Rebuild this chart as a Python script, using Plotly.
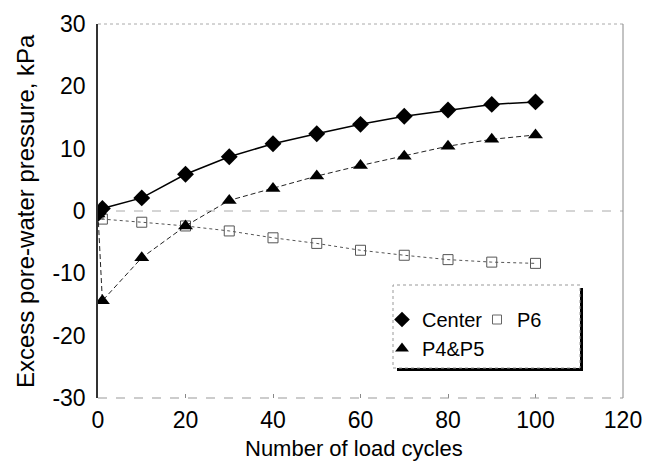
import plotly.graph_objects as go

cycles = [0, 1, 10, 20, 30, 40, 50, 60, 70, 80, 90, 100]
center = [-0.4, 0.4, 2.1, 5.9, 8.7, 10.8, 12.4, 13.9, 15.2, 16.2, 17.1, 17.5]
p4p5 = [-0.5, -14.4, -7.5, -2.4, 1.7, 3.6, 5.6, 7.3, 8.8, 10.4, 11.5, 12.2]
p6 = [-0.5, -1.3, -1.8, -2.4, -3.2, -4.3, -5.2, -6.3, -7.1, -7.8, -8.2, -8.4]

x_ticks = [0, 20, 40, 60, 80, 100, 120]
y_ticks = [-30, -20, -10, 0, 10, 20, 30]
y_ticktext = ["-30", "-20", "-10", "0", "10", "20", "30"]

x_title = "Number of load cycles"
y_title = "Excess pore-water pressure, kPa"

FONT = "Arial, 'Liberation Sans', Helvetica, sans-serif"

L, R, T, B = 98, 29, 24, 63
W, H = 652, 461
PW, PH = W - L - R, H - T - B


def px(x):
    return (x - L) / PW


def py(y):
    return (H - B - y) / PH


fig = go.Figure()

# data traces
fig.add_trace(go.Scatter(x=cycles, y=p6, mode="lines+markers", showlegend=False,
                         line=dict(color="#555555", width=1, dash="dot"),
                         marker=dict(symbol="square-open", size=10, color="#555555",
                                     line=dict(width=1, color="#555555"))))
fig.add_trace(go.Scatter(x=cycles, y=p4p5, mode="lines+markers", showlegend=False,
                         line=dict(color="#222222", width=1, dash="5px,3px"),
                         marker=dict(symbol="triangle-up", size=13, color="black")))
fig.add_trace(go.Scatter(x=cycles, y=center, mode="lines+markers", showlegend=False,
                         line=dict(color="black", width=1.5),
                         marker=dict(symbol="diamond", size=13, color="black")))

# legend entries (markers only)
fig.add_trace(go.Scatter(x=[None], y=[None], mode="markers", name="Center", legend="legend",
                         marker=dict(symbol="diamond", size=12, color="black")))
fig.add_trace(go.Scatter(x=[None], y=[None], mode="markers", name="P4&P5", legend="legend",
                         marker=dict(symbol="triangle-up", size=12, color="black")))
fig.add_trace(go.Scatter(x=[None], y=[None], mode="markers", name="P6", legend="legend2",
                         marker=dict(symbol="square-open", size=9, color="#666666",
                                     line=dict(width=1, color="#666666"))))

shapes = [
    # frame
    dict(type="line", xref="paper", yref="paper", x0=0, x1=1, y0=1, y1=1,
         line=dict(color="#aaaaaa", width=1, dash="dot")),
    dict(type="line", xref="paper", yref="paper", x0=1, x1=1, y0=0, y1=1,
         line=dict(color="#888888", width=1)),
    dict(type="line", xref="paper", yref="paper", x0=0, x1=1, y0=0, y1=0,
         line=dict(color="#999999", width=1, dash="dash")),
    dict(type="line", xref="paper", yref="y", x0=0, x1=1, y0=0, y1=0, layer="below",
         line=dict(color="#aaaaaa", width=1, dash="dash")),
    # legend box shadow + box
    dict(type="rect", xref="paper", yref="paper", x0=px(397), x1=px(583), y0=py(371), y1=py(288),
         fillcolor="black", line=dict(width=0), layer="above"),
    dict(type="rect", xref="paper", yref="paper", x0=px(393), x1=px(580), y0=py(368), y1=py(285),
         fillcolor="white", line=dict(color="#999999", width=1, dash="dot"), layer="above"),
]

annotations = [
    dict(text=x_title, xref="paper", yref="paper", x=px(354), y=py(449),
         xanchor="center", yanchor="middle", showarrow=False,
         font=dict(family=FONT, size=22, color="black")),
    dict(text=y_title, xref="paper", yref="paper", x=px(25), y=py(211),
         xanchor="center", yanchor="middle", showarrow=False, textangle=-90,
         font=dict(family=FONT, size=24, color="black")),
]

fig.update_layout(
    width=W, height=H,
    margin=dict(l=L, r=R, t=T, b=B, pad=0),
    paper_bgcolor="white", plot_bgcolor="white",
    font=dict(family=FONT, size=23, color="black"),
    shapes=shapes,
    annotations=annotations,
    legend=dict(x=px(382), y=py(300), xanchor="left", yanchor="top",
                bgcolor="rgba(0,0,0,0)", borderwidth=0,
                font=dict(family=FONT, size=20, color="black"),
                tracegroupgap=0, itemwidth=30),
    legend2=dict(x=px(477), y=py(300), xanchor="left", yanchor="top",
                 bgcolor="rgba(0,0,0,0)", borderwidth=0,
                 font=dict(family=FONT, size=20, color="black"), itemwidth=30),
    xaxis=dict(range=[0, 120], tickvals=x_ticks, showgrid=False, zeroline=False,
               showline=False, ticks="inside", ticklen=4, tickcolor="#888888",
               ticklabelstandoff=6, automargin=False),
    yaxis=dict(range=[-30, 30], tickvals=y_ticks, ticktext=y_ticktext,
               showgrid=False, zeroline=False,
               showline=True, linecolor="#333333", linewidth=1.5,
               ticks="", ticklabelstandoff=6, automargin=False),
)

fig.write_html("out.html")
